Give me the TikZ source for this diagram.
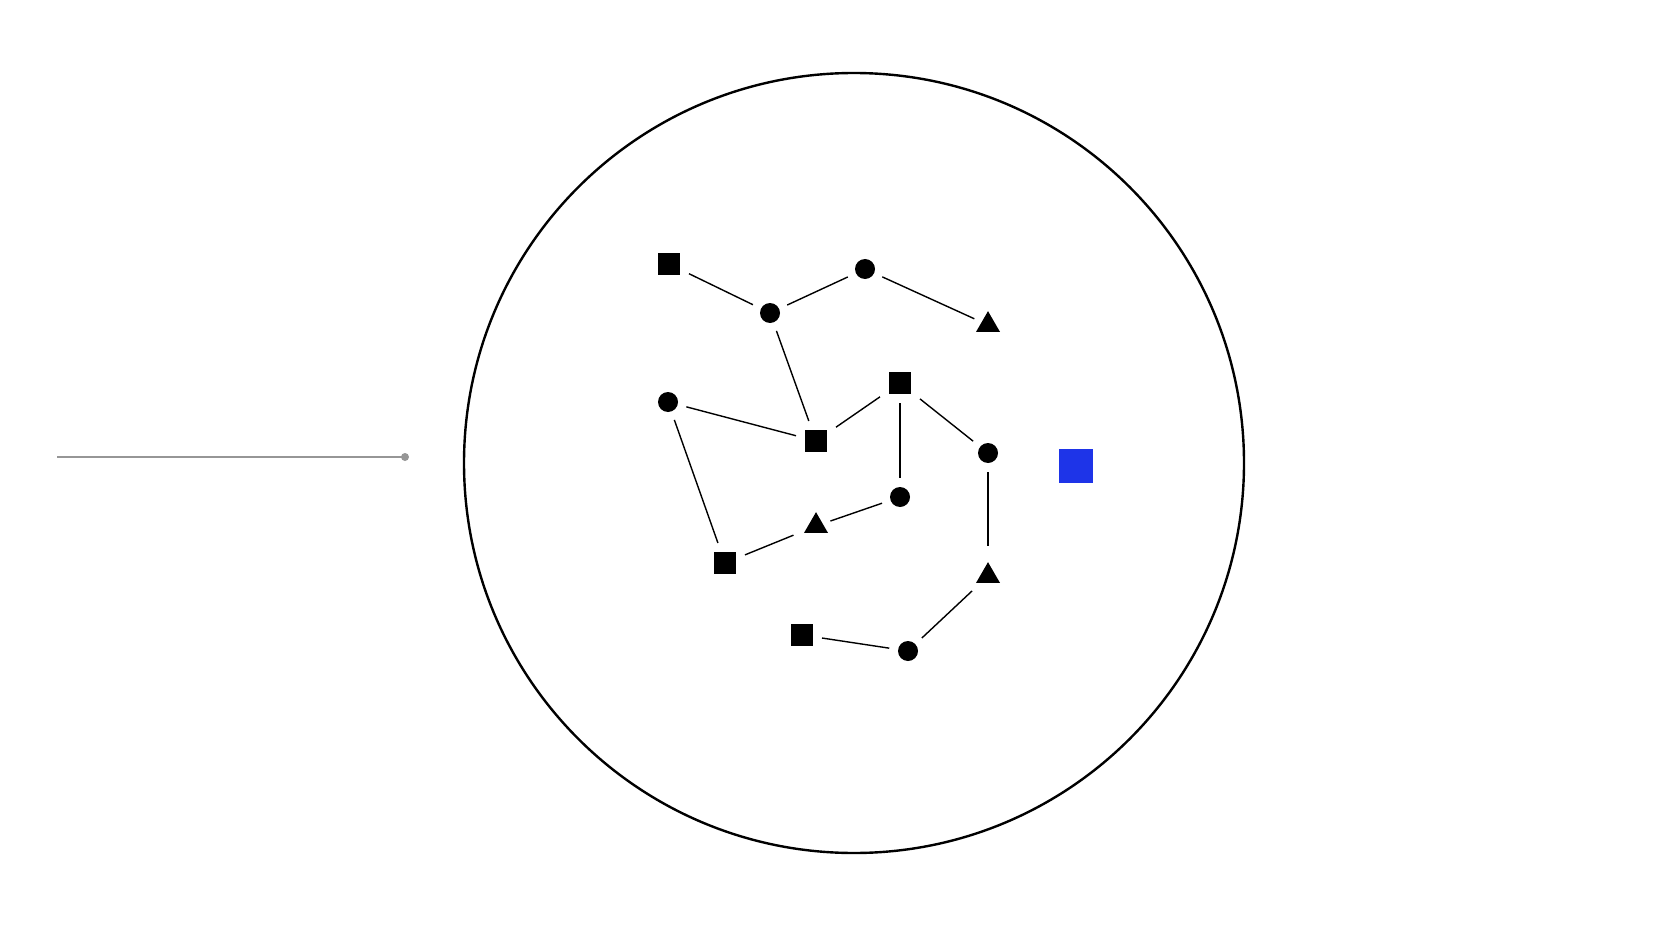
\documentclass[tikz,border=0pt]{standalone}
\usetikzlibrary{shapes.geometric}
\definecolor{accentblue}{RGB}{30,52,232}
\definecolor{leadgray}{RGB}{150,150,150}
\begin{document}
\begin{tikzpicture}[x=1pt,y=-1pt,
  sq/.style={rectangle,fill=black,inner sep=0pt,minimum size=22pt,outer sep=9pt},
  cir/.style={circle,fill=black,inner sep=0pt,minimum size=20pt,outer sep=9pt},
  tri/.style={regular polygon,regular polygon sides=3,fill=black,inner sep=0pt,minimum size=27.7pt,outer sep=8pt},
  edge/.style={draw=black,line width=1.4pt},
  leaddot/.style={circle,fill=leadgray,inner sep=0pt,minimum size=8pt}]
\useasboundingbox[fill=white] (0,0) rectangle (1672,941);
% big circle
\node[circle,draw=black,line width=2.4pt,minimum size=780pt,inner sep=0pt] (ring) at (854,463) {};
% lead line
\coordinate (L0) at (57,457);
\node[leaddot] (L1) at (405,457) {};
\draw[leadgray,line width=1.5pt] (L0) -- (L1.center);
% nodes
\node[sq] (s1) at (669,264) {};
\node[cir] (a) at (770,313) {};
\node[cir] (b) at (865,269) {};
\node[tri] (t1) at (988,325) {};
\node[sq] (s2) at (900,383) {};
\node[cir] (c) at (668,402) {};
\node[sq] (s3) at (816,441) {};
\node[cir] (d) at (988,453) {};
\node[cir] (e) at (900,497) {};
\node[tri] (t2) at (816,526) {};
\node[sq] (s4) at (725,563) {};
\node[tri] (t3) at (988,576) {};
\node[sq] (s5) at (802,635) {};
\node[cir] (f) at (908,651) {};
\node[rectangle,fill=accentblue,inner sep=0pt,minimum size=34pt] (blue) at (1076,466) {};
% edges
\draw[edge] (s1) -- (a);
\draw[edge] (a) -- (b);
\draw[edge] (b) -- (t1);
\draw[edge] (a) -- (s3);
\draw[edge] (c) -- (s3);
\draw[edge] (s3) -- (s2);
\draw[edge] (s2) -- (e);
\draw[edge] (s2) -- (d);
\draw[edge] (c) -- (s4);
\draw[edge] (s4) -- (t2);
\draw[edge] (t2) -- (e);
\draw[edge] (d) -- (t3);
\draw[edge] (t3) -- (f);
\draw[edge] (f) -- (s5);
\end{tikzpicture}
\end{document}
